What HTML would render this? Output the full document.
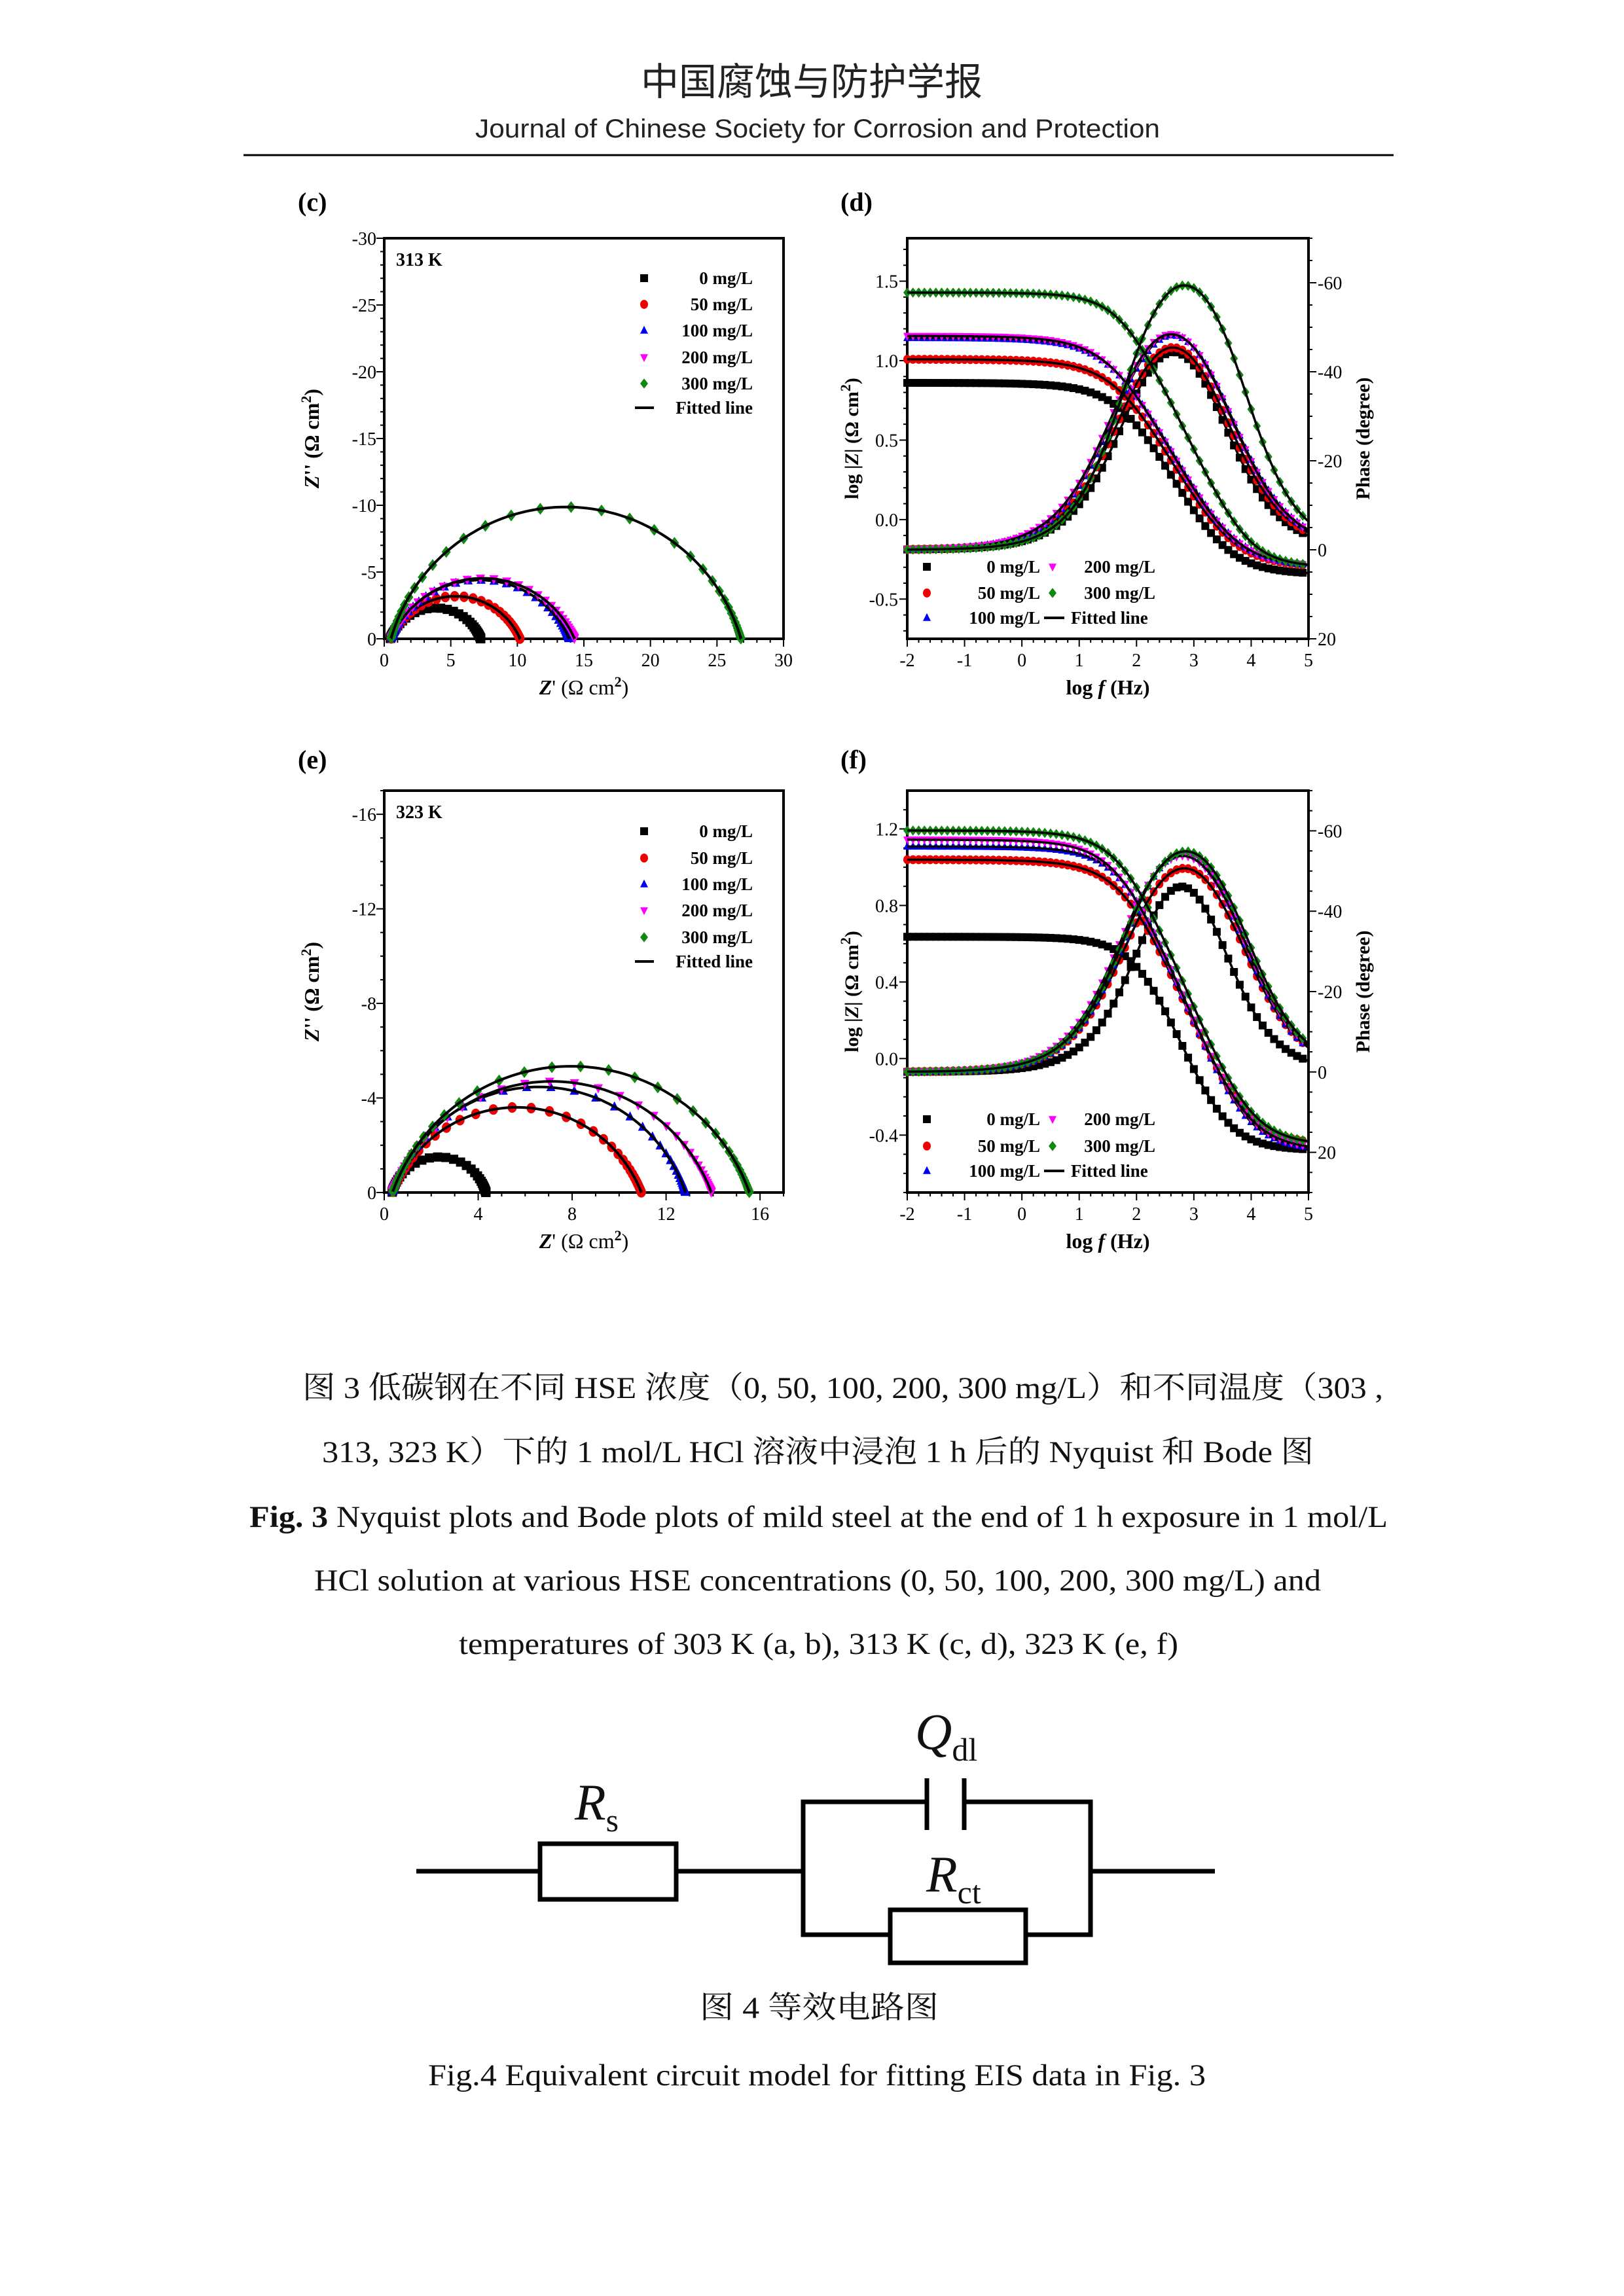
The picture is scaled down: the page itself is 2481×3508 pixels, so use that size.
<!DOCTYPE html>
<html><head><meta charset="utf-8">
<style>
html,body{margin:0;padding:0;background:#fff;}
svg{display:block;}
text{font-family:"Liberation Serif","Noto Serif CJK SC",serif;}
</style></head>
<body>
<svg id="page" xmlns="http://www.w3.org/2000/svg" width="2481" height="3508" viewBox="0 0 2481 3508">
<rect width="2481" height="3508" fill="#fff"/>
<g>
<text x="1240" y="145" font-size="58" text-anchor="middle" style="font-family:'Noto Sans CJK SC',sans-serif" fill="#222">中国腐蚀与防护学报</text>
<text x="726" y="210" font-size="40" textLength="1046" lengthAdjust="spacingAndGlyphs" style="font-family:'Liberation Sans',sans-serif" fill="#222">Journal of Chinese Society for Corrosion and Protection</text>
<line x1="372" y1="237" x2="2129" y2="237" stroke="#000" stroke-width="3"/>
</g>
<g id="charts"></g>
<g font-size="47" fill="#111">
<text x="462" y="2136" textLength="1651" lengthAdjust="spacingAndGlyphs">图 3 低碳钢在不同 HSE 浓度（0, 50, 100, 200, 300 mg/L）和不同温度（303 ,</text>
<text x="492" y="2234" textLength="1515" lengthAdjust="spacingAndGlyphs">313, 323 K）下的 1 mol/L HCl 溶液中浸泡 1 h 后的 Nyquist 和 Bode 图</text>
<text x="381" y="2333" textLength="1739" lengthAdjust="spacingAndGlyphs"><tspan font-weight="bold">Fig. 3</tspan> Nyquist plots and Bode plots of mild steel at the end of 1 h exposure in 1 mol/L</text>
<text x="480" y="2430" textLength="1538" lengthAdjust="spacingAndGlyphs">HCl solution at various HSE concentrations (0, 50, 100, 200, 300 mg/L) and</text>
<text x="701" y="2527" textLength="1099" lengthAdjust="spacingAndGlyphs">temperatures of 303 K (a, b), 313 K (c, d), 323 K (e, f)</text>
</g>
<g stroke="#000" stroke-width="7" fill="none">
<line x1="636" y1="2859" x2="825" y2="2859"/>
<rect x="825" y="2817" width="208" height="85"/>
<line x1="1033" y1="2859" x2="1227" y2="2859"/>
<polyline points="1416,2753 1227,2753 1227,2956 1360,2956"/>
<polyline points="1473,2753 1666,2753 1666,2956 1567,2956"/>
<line x1="1416" y1="2717" x2="1416" y2="2796"/>
<line x1="1473" y1="2717" x2="1473" y2="2796"/>
<rect x="1360" y="2918" width="207" height="81"/>
<line x1="1666" y1="2859" x2="1856" y2="2859"/>
</g>
<g fill="#111">
<text x="878" y="2780" font-size="78" font-style="italic">R<tspan font-size="50" font-style="normal" dy="18">s</tspan></text>
<text x="1398" y="2672" font-size="78" font-style="italic">Q<tspan font-size="50" font-style="normal" dy="18">dl</tspan></text>
<text x="1415" y="2890" font-size="78" font-style="italic">R<tspan font-size="50" font-style="normal" dy="18">ct</tspan></text>
</g>
<g font-size="47" fill="#111">
<text x="1069" y="3083" textLength="365" lengthAdjust="spacingAndGlyphs">图 4  等效电路图</text>
<text x="654" y="3186" textLength="1188" lengthAdjust="spacingAndGlyphs">Fig.4 Equivalent circuit model for fitting EIS data in Fig. 3</text>
</g>
</svg>
<script>
// ---- data (equivalent-circuit parameters) ----
const concLabels = ['0 mg/L','50 mg/L','100 mg/L','200 mg/L','300 mg/L'];
const seriesColors = ['#000000','#ee0000','#0000ee','#ff00ff','#118811'];
const seriesShapes = ['square','circle','tri','dtri','diamond'];
const rs313 = [0.45,0.5,0.5,0.5,0.5];
const rct313 = [6.8,9.7,13.4,13.8,26.3];
const n313 = [0.76,0.74,0.74,0.74,0.82];
const logf0_313 = [1.85,1.75,1.65,1.62,1.78];
const rs323 = [0.33,0.35,0.33,0.33,0.35];
const rct323 = [4.0,10.6,12.5,13.6,15.2];
const n323 = [0.82,0.76,0.79,0.77,0.78];
const logf0_323 = [2.1,1.85,1.82,1.75,1.8];
const nyqXTicks313 = [0,5,10,15,20,25,30];
const nyqYTicks313 = [0,5,10,15,20,25,30];
const nyqXTicks323 = [0,4,8,12,16];
const nyqYTicks323 = [0,4,8,12,16];
const bodeXTicks = [-2,-1,0,1,2,3,4,5];
const bodeLTicks313 = [-0.5,0.0,0.5,1.0,1.5];
const bodeLTicks323 = [-0.4,0.0,0.4,0.8,1.2];
const phaseTicks = [-60,-40,-20,0,20];

const NS='http://www.w3.org/2000/svg';
const root=document.getElementById('charts');
function mk(tag,attrs,parent){const e=document.createElementNS(NS,tag);for(const k in attrs)e.setAttribute(k,attrs[k]);(parent||root).appendChild(e);return e;}
function txt(parent,x,y,s,size,anchor,extra){const t=mk('text',Object.assign({x:x,y:y,'font-size':size,'text-anchor':anchor||'start',fill:'#000'},extra||{}),parent);t.textContent=s;return t;}

function imp(rs,rct,n,lf0,lf){
  const w=Math.pow(10,(lf-lf0)*n);const a=Math.PI*n/2;
  const dr=1+w*Math.cos(a), di=w*Math.sin(a);const d=dr*dr+di*di;
  const re=rs+rct*dr/d, im=-rct*di/d;return [re,im];
}
function marker(g,shape,x,y,c,s){
  let e;
  if(shape==='square')e=mk('rect',{x:x-s,y:y-s,width:2*s,height:2*s,fill:c},g);
  else if(shape==='circle')e=mk('ellipse',{cx:x,cy:y,rx:s,ry:s*1.15,fill:c},g);
  else if(shape==='tri')e=mk('polygon',{points:`${x},${y-s*1.2} ${x-s},${y+s*0.8} ${x+s},${y+s*0.8}`,fill:c},g);
  else if(shape==='dtri')e=mk('polygon',{points:`${x},${y+s*1.2} ${x-s},${y-s*0.8} ${x+s},${y-s*0.8}`,fill:c},g);
  else e=mk('polygon',{points:`${x},${y-s*1.3} ${x+s},${y} ${x},${y+s*1.3} ${x-s},${y}`,fill:c},g);
  return e;
}
function frame(g,x0,y0,x1,y1){mk('rect',{x:x0,y:y0,width:x1-x0,height:y1-y0,fill:'none',stroke:'#000','stroke-width':4},g);}

function nyquist(opt){
  const g=mk('g',{});
  
  
  const {x0,x1,y0,y1,xmax,ymax}=opt;
  const X=v=>x0+v/xmax*(x1-x0), Y=v=>y1-v/ymax*(y1-y0);
  txt(g,opt.lx,opt.ly,opt.panel,40,'start',{'font-weight':'bold'});
  frame(g,x0,y0,x1,y1);
  for(let v=0;v<=xmax+1e-9;v+=1){const big=opt.xt.includes(v);mk('line',{x1:X(v),y1:y1,x2:X(v),y2:y1+(big?12:6),stroke:'#000','stroke-width':2},g);}
  for(let v=0;v<=ymax+1e-9;v+=1){const big=opt.yt.includes(v);mk('line',{x1:x0,y1:Y(v),x2:x0-(big?12:6),y2:Y(v),stroke:'#000','stroke-width':2},g);}
  opt.xt.forEach(v=>txt(g,X(v),y1+42,String(v),28,'middle'));
  opt.yt.forEach(v=>txt(g,x0-12,Y(v)+10,v===0?'0':'-'+v,28,'end'));
  txt(g,(x0+x1)/2,y1+85,'',32,'middle').innerHTML='<tspan font-style="italic" font-weight="bold">Z</tspan>\' (Ω cm<tspan dy="-12" font-size="22" font-weight="bold">2</tspan><tspan dy="12">)</tspan>';
  const yl=txt(g,0,0,'',32,'middle',{'font-weight':'bold',transform:`translate(${x0-100},${(y0+y1)/2}) rotate(-90)`});
  yl.innerHTML='<tspan font-style="italic">Z</tspan>\'\' (Ω cm<tspan dy="-12" font-size="22">2</tspan><tspan dy="12">)</tspan>';
  txt(g,x0+18,y0+42,opt.temp,28,'start',{'font-weight':'bold'});
  for(let i=0;i<5;i++){
    const P=opt.params;let d='';
    for(let lf=5;lf>=-2.001;lf-=0.02){const [re,im]=imp(P.rs[i],P.rct[i],P.n[i],P.lf0[i],lf);d+=(d?'L':'M')+X(re).toFixed(1)+','+Y(-im).toFixed(1);}
    const sg=mk('g',{},g);
    
    
    for(let lf=5;lf>=-2.001;lf-=0.12){const [re,im]=imp(P.rs[i],P.rct[i],P.n[i],P.lf0[i],lf);marker(sg,seriesShapes[i],X(re),Y(-im),seriesColors[i],7);}
    mk('path',{d:d,fill:'none',stroke:'#000','stroke-width':4},sg);
  }
  const lg=mk('g',{},g);
  
  
  opt.legY.forEach((yy,i)=>{
    if(i<5){marker(lg,seriesShapes[i],x0+397,yy-9,seriesColors[i],6);txt(lg,x0+563,yy,concLabels[i],27,'end',{'font-weight':'bold'});}
    else{mk('line',{x1:x0+383,y1:yy-9,x2:x0+412,y2:yy-9,stroke:'#000','stroke-width':4},lg);txt(lg,x0+563,yy,'Fitted line',27,'end',{'font-weight':'bold'});}
  });
}

function bode(opt){
  const g=mk('g',{});
  
  
  const {x0,x1,y0,y1,lmin,lmax,pmin,pmax}=opt;
  const X=v=>x0+(v+2)/7*(x1-x0);
  const YL=v=>y1-(v-lmin)/(lmax-lmin)*(y1-y0);
  const YP=v=>y0+(v-pmin)/(pmax-pmin)*(y1-y0);
  txt(g,opt.lx,opt.ly,opt.panel,40,'start',{'font-weight':'bold'});
  frame(g,x0,y0,x1,y1);
  for(let v=-2;v<=5.001;v+=0.2){const big=Math.abs(v-Math.round(v))<1e-6;mk('line',{x1:X(v),y1:y1,x2:X(v),y2:y1+(big?12:6),stroke:'#000','stroke-width':2},g);}
  for(let v=Math.ceil(lmin*10)/10;v<=lmax;v+=0.1){const big=opt.lt.some(t=>Math.abs(t-v)<1e-6);mk('line',{x1:x0,y1:YL(v),x2:x0-(big?12:6),y2:YL(v),stroke:'#000','stroke-width':2},g);}
  for(let v=-70;v<=pmax;v+=5){const big=phaseTicks.includes(v);mk('line',{x1:x1,y1:YP(v),x2:x1+(big?12:6),y2:YP(v),stroke:'#000','stroke-width':2},g);}
  bodeXTicks.forEach(v=>txt(g,X(v),y1+42,String(v),28,'middle'));
  opt.lt.forEach(v=>txt(g,x0-14,YL(v)+10,v.toFixed(1),28,'end'));
  phaseTicks.forEach(v=>txt(g,x1+14,YP(v)+10,String(v),28,'start'));
  txt(g,(x0+x1)/2,y1+85,'',32,'middle',{'font-weight':'bold'}).innerHTML='log <tspan font-style="italic">f</tspan> (Hz)';
  txt(g,0,0,'',30,'middle',{'font-weight':'bold',transform:`translate(${x0-75},${(y0+y1)/2}) rotate(-90)`}).innerHTML='log |<tspan font-style="italic">Z</tspan>| (Ω cm<tspan dy="-12" font-size="22">2</tspan><tspan dy="12">)</tspan>';
  txt(g,0,0,'Phase (degree)',30,'middle',{'font-weight':'bold',transform:`translate(${x1+93},${(y0+y1)/2}) rotate(-90)`});
  for(let i=0;i<5;i++){
    const P=opt.params;let dm='',dp='';
    for(let lf=-2;lf<=5.001;lf+=0.02){const [re,im]=imp(P.rs[i],P.rct[i],P.n[i],P.lf0[i],lf);const m=Math.log10(Math.hypot(re,im));const ph=Math.atan2(im,re)*180/Math.PI;
      dm+=(dm?'L':'M')+X(lf).toFixed(1)+','+YL(m).toFixed(1);dp+=(dp?'L':'M')+X(lf).toFixed(1)+','+YP(ph).toFixed(1);}
    const sg=mk('g',{},g);
    
    
    for(let lf=-2;lf<=4.95;lf+=0.1){const [re,im]=imp(P.rs[i],P.rct[i],P.n[i],P.lf0[i],lf);const m=Math.log10(Math.hypot(re,im));const ph=Math.atan2(im,re)*180/Math.PI;
      marker(sg,seriesShapes[i],X(lf),YL(m),seriesColors[i],6);marker(sg,seriesShapes[i],X(lf),YP(ph),seriesColors[i],6);}
    mk('path',{d:dm,fill:'none',stroke:'#000','stroke-width':3.5},sg);
    mk('path',{d:dp,fill:'none',stroke:'#000','stroke-width':3.5},sg);
  }
  const lg=mk('g',{},g);
  
  
  const items=[[0,0,0],[1,0,1],[2,0,2],[3,1,0],[4,1,1]];
  items.forEach(([i,col,row])=>{const yy=opt.legY[row];const bx=col?x0+222:x0+30;
    marker(lg,seriesShapes[i],bx,yy-9,seriesColors[i],6);
    txt(lg,col?x0+379:x0+203,yy,i===0?'0   mg/L':concLabels[i],27,'end',{'font-weight':'bold'});});
  mk('line',{x1:x0+209,y1:opt.legY[2]-9,x2:x0+240,y2:opt.legY[2]-9,stroke:'#000','stroke-width':4},lg);
  txt(lg,x0+250,opt.legY[2],'Fitted line',27,'start',{'font-weight':'bold'});
}

const p313={rs:rs313,rct:rct313,n:n313,lf0:logf0_313};
const p323={rs:rs323,rct:rct323,n:n323,lf0:logf0_323};
nyquist({name:'nyquist-313k-chart',panel:'(c)',lx:455,ly:322,x0:587,x1:1197,y0:364,y1:976,xmax:30,ymax:30,xt:nyqXTicks313,yt:nyqYTicks313,temp:'313 K',params:p313,legY:[434,474,514,555,595,632]});
bode({name:'bode-313k-chart',panel:'(d)',lx:1284,ly:322,x0:1386,x1:1999,y0:364,y1:976,lmin:-0.75,lmax:1.77,pmin:-70,pmax:20,lt:bodeLTicks313,params:p313,legY:[875,915,953]});
nyquist({name:'nyquist-323k-chart',panel:'(e)',lx:455,ly:1174,x0:587,x1:1197,y0:1208,y1:1822,xmax:17,ymax:17,xt:nyqXTicks323,yt:nyqYTicks323,temp:'323 K',params:p323,legY:[1279,1320,1360,1400,1441,1478]});
bode({name:'bode-323k-chart',panel:'(f)',lx:1284,ly:1174,x0:1386,x1:1999,y0:1208,y1:1822,lmin:-0.7,lmax:1.4,pmin:-70,pmax:30,lt:bodeLTicks323,params:p323,legY:[1719,1760,1798]});
</script>
</body></html>
